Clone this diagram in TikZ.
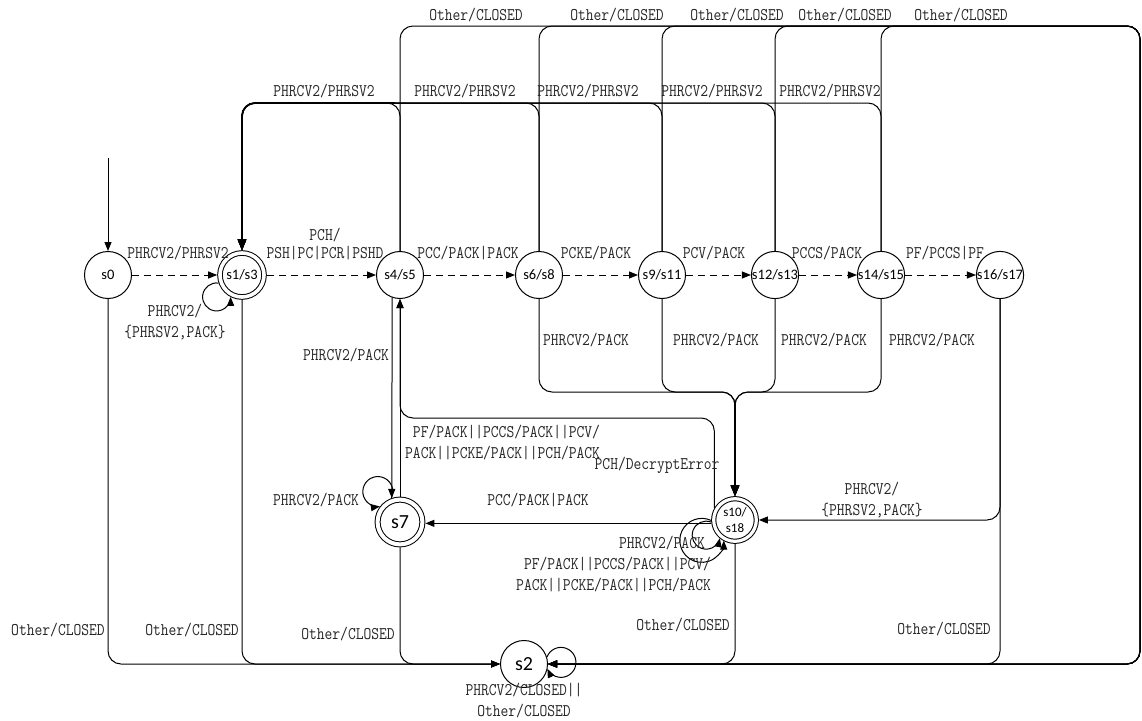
\documentclass[tikz,border=0pt]{standalone}
\usepackage{fontspec}
\newfontfamily\labfont[FakeStretch=0.85]{Latin Modern Mono}
\newfontfamily\stfont{Carlito}
\usetikzlibrary{arrows.meta}
\begin{document}
\begin{tikzpicture}[x=1pt,y=-1pt,
  st/.style={circle,draw,line width=1pt,minimum size=47pt,inner sep=0pt,font=\stfont\fontsize{14.5}{16}\selectfont},
  acc/.style={st,double,double distance=3.6pt,outer sep=2.8pt},
  big/.style={font=\stfont\fontsize{20}{20}\selectfont},
  lab/.style={font=\labfont\fontsize{17.8}{21}\selectfont,inner sep=0pt,text=black!85},
  edge/.style={line width=1pt,-{Triangle[length=9pt,width=7pt]}},
  dedge/.style={edge,dash pattern=on 7pt off 5pt},
  thk/.style={line width=1.8pt},
  rc/.style={rounded corners=13pt}
]
\fill[white] (0,0) rectangle (1142,720);
\useasboundingbox (0,0) rectangle (1142,720);

% states
\node[st] (s0) at (108,275) {s0};
\node[acc,minimum size=44pt] (s1) at (242,275) {s1/s3};
\node[st] (s4) at (400,275) {s4/s5};
\node[st] (s6) at (539,275) {s6/s8};
\node[st] (s9) at (662,275) {s9/s11};
\node[st] (s12) at (775,275) {s12/s13};
\node[st] (s14) at (881,275) {s14/s15};
\node[st] (s16) at (1000,275) {s16/s17};
\node[acc,big,minimum size=44.8pt,double distance=4pt,outer sep=3pt] (s7) at (400,522) {s7};
\node[acc,minimum size=42.6pt,double distance=3.2pt,outer sep=2.6pt,align=center,font=\stfont\fontsize{13}{16}\selectfont] (s10) at (735,520) {s10/\\s18};
\node[st,big] (s2) at (524,664) {s2};

% helper coordinates
\coordinate (init) at (108,158);
\coordinate (tr) at (1140,26);
\coordinate (tl) at (242,103);
\coordinate (pb) at (395,103);
\coordinate (pk) at (735,392);
\coordinate (pk2) at (735,404);
\coordinate (h1) at (0,418);

% initial
\draw[edge] (init) -- (s0.north);

% main row (dashed)
\draw[dedge] (s0) -- (s1);
\draw[dedge] (s1) -- (s4);
\draw[dedge] (s4) -- (s6);
\draw[dedge] (s6) -- (s9);
\draw[dedge] (s9) -- (s12);
\draw[dedge] (s12) -- (s14);
\draw[dedge] (s14) -- (s16);

% Other/CLOSED via top bus
\foreach \n in {s4,s6,s9,s12,s14}
  \draw[edge,rc] (\n.north) |- (tr) |- (s2.east);
\draw[edge,rc] (s16.south) |- (s2.east);
\draw[edge,rc] (s10.south) |- (s2.east);
\foreach \n in {s0,s1,s7}
  \draw[edge,rc] (\n.south) |- (s2.west);

% PHRCV2/PHRSV2 back to s1/s3
\foreach \n in {s4,s6,s9,s12,s14}
  \draw[edge,rc] (\n.north) |- (tl) -- (s1.north);
\draw[thk,rc,-{Triangle[length=11pt,width=9pt]}] (pb) -- (tl) -- (s1.north);

% PHRCV2/PACK to s10/s18
\foreach \n in {s6,s9,s12,s14}
  \draw[edge,rc] (\n.south) |- (pk) -- (s10.north);
\draw[thk,-{Triangle[length=11pt,width=9pt]}] (pk2) -- (s10.north);

% s4 <-> s7
\draw[edge] (s4.-109) -- (s7.109);
\draw[edge] (s7.north) -- (s4.south);
% s10 -> s4
\draw[edge,rc] (s10.150) -- (s10.150 |- h1) -| (s4.south);
% s10 -> s7
\draw[edge] (s10.188) -- (s10.188 -| s7.east);
% s16 -> s10
\draw[edge,rc] (s16.south) |- (s10.east);

% self loops
\draw[edge] (s1.199) arc[start angle=-82,end angle=-360,radius=14];
\draw[edge] (s7.110) arc[start angle=26,end angle=-278,radius=15];
\draw[edge] (s2.17) arc[start angle=-159,end angle=155,radius=15];
\draw[edge] (s10.181) arc[start angle=-65,end angle=-359.5,radius=22];
\draw[edge] (s10.185) arc[start angle=-69,end angle=-348,radius=14];

% labels: main row
\node[lab] (l01) at (178,253) {PHRCV2/PHRSV2};
\node[lab] (l02) at (325,235) {PCH/};
\node[lab] (l03) at (325,253) {PSH|PC|PCR|PSHD};
\node[lab] (l04) at (468,253) {PCC/PACK|PACK};
\node[lab] (l05) at (596,253) {PCKE/PACK};
\node[lab] (l06) at (714,253) {PCV/PACK};
\node[lab] (l07) at (827,253) {PCCS/PACK};
\node[lab] (l08) at (945,253) {PF/PCCS|PF};
\node[lab,align=center] (l09) at (175,322) {PHRCV2/\\\{PHRSV2,PACK\}};

% labels: top
\node[lab] (l10) at (324,91) {PHRCV2/PHRSV2};
\node[lab] (l11) at (465,91) {PHRCV2/PHRSV2};
\node[lab] (l12) at (588,91) {PHRCV2/PHRSV2};
\node[lab] (l13) at (712,91) {PHRCV2/PHRSV2};
\node[lab] (l14) at (830,91) {PHRCV2/PHRSV2};
\node[lab] (l15) at (476,15) {Other/CLOSED};
\node[lab] (l16) at (617,15) {Other/CLOSED};
\node[lab] (l17) at (737,15) {Other/CLOSED};
\node[lab] (l18) at (845,15) {Other/CLOSED};
\node[lab] (l19) at (961,15) {Other/CLOSED};

% labels: middle
\node[lab] (l20) at (586,340) {PHRCV2/PACK};
\node[lab] (l21) at (716,340) {PHRCV2/PACK};
\node[lab] (l22) at (824,340) {PHRCV2/PACK};
\node[lab] (l23) at (932,340) {PHRCV2/PACK};
\node[lab] (l24) at (346,355) {PHRCV2/PACK};
\node[lab,align=left,anchor=west] (l25) at (405,443) {\ PF/PACK||PCCS/PACK||PCV/\\PACK||PCKE/PACK||PCH/PACK};
\node[lab] (l26) at (657,465) {PCH/DecryptError};
\node[lab] (l27) at (538,500) {PCC/PACK|PACK};
\node[lab] (l28) at (316,500) {PHRCV2/PACK};
\node[lab] (l29) at (662,543) {PHRCV2/PACK};
\node[lab,align=left,anchor=west] (l30) at (516,575) {\ PF/PACK||PCCS/PACK||PCV/\\PACK||PCKE/PACK||PCH/PACK};
\node[lab,align=center] (l31) at (872,500) {PHRCV2/\\\{PHRSV2,PACK\}};

% labels: bottom
\node[lab] (l32) at (58,630) {Other/CLOSED};
\node[lab] (l33) at (192,630) {Other/CLOSED};
\node[lab] (l34) at (348,634) {Other/CLOSED};
\node[lab] (l35) at (683,625) {Other/CLOSED};
\node[lab] (l36) at (944,629) {Other/CLOSED};
\node[lab,align=center] (l37) at (524,701) {PHRCV2/CLOSED||\\Other/CLOSED};
\end{tikzpicture}
\end{document}
